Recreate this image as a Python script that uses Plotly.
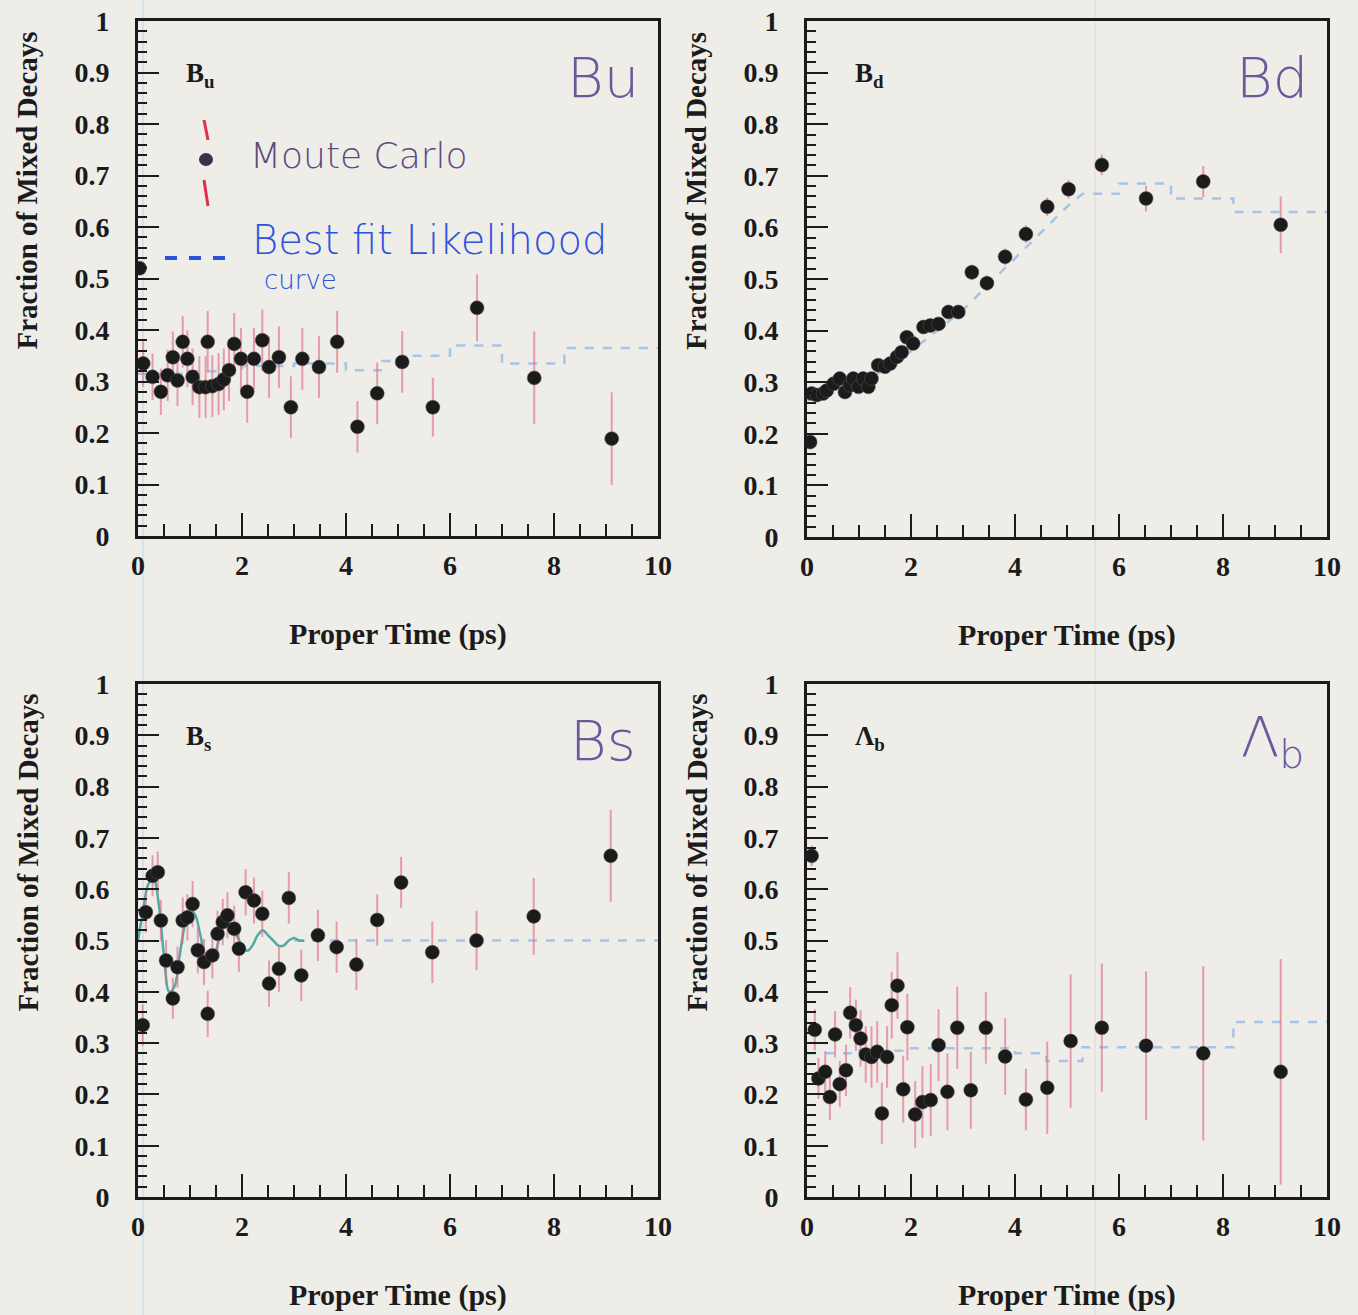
import plotly.graph_objects as go

W, H = 1358, 1315

# ---------------- data ----------------
# B_u
bu_t = [0.03, 0.10, 0.28, 0.44, 0.57, 0.67, 0.76, 0.86, 0.95, 1.05, 1.18, 1.30, 1.34, 1.43, 1.55, 1.65, 1.75,
        1.85, 1.98, 2.10, 2.23, 2.39, 2.52, 2.71, 2.94, 3.16, 3.48, 3.83, 4.22, 4.60, 5.08, 5.67, 6.52, 7.62, 9.11]
bu_f = [0.52, 0.335, 0.309, 0.28, 0.312, 0.347, 0.302, 0.377, 0.344, 0.309, 0.289, 0.289, 0.377, 0.291, 0.295, 0.304, 0.322,
        0.373, 0.344, 0.28, 0.344, 0.38, 0.328, 0.347, 0.25, 0.344, 0.328, 0.377, 0.212, 0.277, 0.338, 0.25, 0.443, 0.307, 0.189]
bu_err = [0.01, 0.045, 0.045, 0.045, 0.05, 0.05, 0.05, 0.05, 0.055, 0.055, 0.06, 0.06, 0.06, 0.06, 0.06, 0.06, 0.06,
          0.06, 0.06, 0.06, 0.06, 0.06, 0.06, 0.06, 0.06, 0.06, 0.06, 0.06, 0.05, 0.06, 0.06, 0.057, 0.065, 0.09, 0.09]
bu_fit_t = [0, 1.0, 2.0, 3.0, 4.0, 4.7, 5.2, 6.0, 7.0, 8.2, 10]
bu_fit_f = [0.315, 0.32, 0.33, 0.335, 0.322, 0.34, 0.35, 0.37, 0.335, 0.365, 0.365]

# B_d
bd_t = [0.06, 0.09, 0.19, 0.31, 0.38, 0.51, 0.63, 0.73, 0.83, 0.89, 0.99, 1.08, 1.18, 1.24, 1.37, 1.50, 1.60, 1.73,
        1.82, 1.92, 2.04, 2.24, 2.37, 2.53, 2.72, 2.91, 3.17, 3.46, 3.81, 4.21, 4.62, 5.03, 5.67, 6.52, 7.62, 9.11]
bd_f = [0.184, 0.278, 0.275, 0.278, 0.284, 0.297, 0.307, 0.281, 0.294, 0.307, 0.291, 0.307, 0.291, 0.307, 0.333, 0.33,
        0.336, 0.349, 0.358, 0.387, 0.375, 0.407, 0.41, 0.413, 0.436, 0.436, 0.513, 0.492, 0.543, 0.587, 0.64, 0.674,
        0.721, 0.656, 0.689, 0.605]
bd_err = [0.01, 0.01, 0.01, 0.01, 0.01, 0.01, 0.01, 0.01, 0.01, 0.01, 0.01, 0.012, 0.012, 0.012, 0.012, 0.012, 0.012, 0.012,
          0.012, 0.012, 0.012, 0.013, 0.013, 0.013, 0.014, 0.014, 0.015, 0.015, 0.016, 0.017, 0.018, 0.018, 0.02, 0.025, 0.03, 0.055]
bd_fit_t = [0, 0.5, 1.0, 1.5, 2.0, 2.5, 3.0, 3.5, 4.0, 4.5, 5.0, 5.3, 6.0, 6.0, 7.0, 7.0, 8.2, 8.2, 10]
bd_fit_f = [0.265, 0.28, 0.295, 0.325, 0.36, 0.40, 0.44, 0.49, 0.54, 0.59, 0.64, 0.665, 0.665, 0.685, 0.685, 0.656,
            0.656, 0.63, 0.63]

# B_s
bs_t = [0.09, 0.15, 0.28, 0.38, 0.44, 0.54, 0.67, 0.76, 0.86, 0.95, 1.05, 1.15, 1.27, 1.34, 1.43, 1.53, 1.63, 1.72,
        1.85, 1.94, 2.07, 2.23, 2.39, 2.52, 2.71, 2.90, 3.14, 3.46, 3.82, 4.20, 4.60, 5.06, 5.66, 6.51, 7.61, 9.09]
bs_f = [0.335, 0.555, 0.626, 0.633, 0.539, 0.461, 0.387, 0.448, 0.539, 0.545, 0.571, 0.481, 0.458, 0.357, 0.471, 0.513,
        0.536, 0.549, 0.523, 0.484, 0.594, 0.578, 0.552, 0.416, 0.445, 0.583, 0.432, 0.510, 0.487, 0.453, 0.540, 0.613,
        0.477, 0.500, 0.547, 0.665]
bs_err = [0.04, 0.04, 0.04, 0.04, 0.04, 0.04, 0.04, 0.04, 0.045, 0.045, 0.045, 0.045, 0.045, 0.045, 0.045, 0.045, 0.045,
          0.045, 0.045, 0.045, 0.045, 0.045, 0.045, 0.045, 0.045, 0.05, 0.05, 0.05, 0.05, 0.05, 0.05, 0.05, 0.06, 0.058,
          0.075, 0.09]
bs_osc_t = [0, 0.1, 0.2, 0.3, 0.4, 0.5, 0.6, 0.7, 0.8, 0.9, 1.0, 1.1, 1.2, 1.3, 1.4, 1.5, 1.6, 1.7, 1.8, 1.9, 2.0,
            2.1, 2.2, 2.3, 2.4, 2.5, 2.6, 2.7, 2.8, 2.9, 3.0, 3.1, 3.2]
bs_osc_f = [0.50, 0.56, 0.61, 0.62, 0.57, 0.47, 0.40, 0.41, 0.47, 0.53, 0.56, 0.55, 0.51, 0.47, 0.46, 0.48, 0.52, 0.54,
            0.53, 0.51, 0.49, 0.48, 0.49, 0.51, 0.52, 0.51, 0.50, 0.49, 0.49, 0.50, 0.505, 0.50, 0.50]
bs_fit_t = [3.0, 10]
bs_fit_f = [0.50, 0.50]

# Lambda_b
lb_t = [0.09, 0.15, 0.22, 0.35, 0.44, 0.54, 0.63, 0.75, 0.83, 0.94, 1.03, 1.13, 1.24, 1.35, 1.44, 1.54, 1.63, 1.74,
        1.85, 1.93, 2.08, 2.22, 2.38, 2.53, 2.70, 2.89, 3.15, 3.44, 3.81, 4.21, 4.62, 5.07, 5.67, 6.52, 7.62, 9.11]
lb_f = [0.665, 0.326, 0.231, 0.244, 0.195, 0.317, 0.22, 0.247, 0.359, 0.335, 0.309, 0.278, 0.273, 0.283, 0.163, 0.273,
        0.374, 0.412, 0.21, 0.331, 0.161, 0.185, 0.189, 0.296, 0.205, 0.33, 0.208, 0.33, 0.274, 0.19, 0.213, 0.304, 0.33,
        0.295, 0.28, 0.244]
lb_err = [0.02, 0.04, 0.04, 0.04, 0.045, 0.045, 0.045, 0.05, 0.05, 0.05, 0.055, 0.055, 0.06, 0.06, 0.06, 0.06, 0.065,
          0.065, 0.065, 0.065, 0.065, 0.07, 0.07, 0.07, 0.075, 0.08, 0.075, 0.07, 0.075, 0.06, 0.09, 0.13, 0.125, 0.145,
          0.17, 0.22]
lb_fit_t = [0, 1.0, 2.0, 3.0, 4.0, 4.6, 5.3, 8.2, 10]
lb_fit_f = [0.28, 0.285, 0.29, 0.29, 0.28, 0.265, 0.292, 0.341, 0.341]

x_tick_vals = [0, 2, 4, 6, 8, 10]
x_tick_text = ["0", "2", "4", "6", "8", "10"]
y_tick_vals = [0, 0.1, 0.2, 0.3, 0.4, 0.5, 0.6, 0.7, 0.8, 0.9, 1.0]
y_tick_text = ["0", "0.1", "0.2", "0.3", "0.4", "0.5", "0.6", "0.7", "0.8", "0.9", "1"]

panel_labels = ["B<sub>u</sub>", "B<sub>d</sub>", "B<sub>s</sub>", "Λ<sub>b</sub>"]
hand_labels = ["Bu", "Bd", "Bs", "Λ<sub>b</sub>"]
x_title = "Proper Time (ps)"
y_title = "Fraction of Mixed Decays"


def px(x):
    return x / W


def py(y):
    return 1 - y / H


BG = "#eeede8"
SERIF = "Liberation Serif"
INK = "#1b1b1b"

# panel frames in pixels (left, right, top, bottom)
frames = [(138, 658, 21, 536), (807, 1327, 21, 537), (138, 658, 684, 1197), (807, 1327, 684, 1197)]

panels = [
    dict(t=bu_t, f=bu_f, e=bu_err, ft=bu_fit_t, ff=bu_fit_f, shape="hv"),
    dict(t=bd_t, f=bd_f, e=bd_err, ft=bd_fit_t, ff=bd_fit_f, shape="linear"),
    dict(t=bs_t, f=bs_f, e=bs_err, ft=bs_fit_t, ff=bs_fit_f, shape="linear"),
    dict(t=lb_t, f=lb_f, e=lb_err, ft=lb_fit_t, ff=lb_fit_f, shape="hv"),
]

fig = go.Figure()
layout_axes = {}
annotations = []
shapes = []

for i, (p, fr) in enumerate(zip(panels, frames), start=1):
    xa = "x" if i == 1 else f"x{i}"
    ya = "y" if i == 1 else f"y{i}"
    fig.add_trace(go.Scatter(x=p["ft"], y=p["ff"], mode="lines",
                             line=dict(color="#a6c4e6", width=2.5, dash="dash", shape=p["shape"]),
                             xaxis=xa, yaxis=ya, hoverinfo="skip", showlegend=False))
    if i == 3:
        fig.add_trace(go.Scatter(x=bs_osc_t, y=bs_osc_f, mode="lines",
                                 line=dict(color="#52a8a4", width=2.5, shape="spline"),
                                 xaxis=xa, yaxis=ya, hoverinfo="skip", showlegend=False))
    fig.add_trace(go.Scatter(x=p["t"], y=p["f"], mode="markers",
                             marker=dict(size=14, color=INK, line=dict(width=1, color="rgba(90,90,90,0.5)")),
                             error_y=dict(type="data", array=p["e"], color="rgba(226,110,140,0.65)",
                                          thickness=2, width=0),
                             xaxis=xa, yaxis=ya, showlegend=False))

    l, r, t, b = fr
    common = dict(showline=True, linewidth=3, linecolor=INK, mirror=True, ticks="inside",
                  tickcolor=INK, tickwidth=2, showgrid=False, zeroline=False, fixedrange=True,
                  automargin=False,
                  tickfont=dict(family=SERIF, size=28, color=INK, weight="bold"))
    layout_axes["xaxis" if i == 1 else f"xaxis{i}"] = dict(
        common, domain=[px(l), px(r)], range=[0, 10], anchor=ya,
        tickmode="array", tickvals=x_tick_vals, ticktext=x_tick_text, ticklen=23,
        ticklabelstandoff=2,
        minor=dict(tickmode="linear", tick0=0, dtick=0.5, ticklen=12, ticks="inside",
                   tickwidth=1.5, tickcolor=INK, showgrid=False))
    layout_axes["yaxis" if i == 1 else f"yaxis{i}"] = dict(
        common, domain=[py(b), py(t)], range=[0, 1], anchor=xa,
        tickmode="array", tickvals=y_tick_vals, ticktext=y_tick_text, ticklen=21,
        ticklabelstandoff=20,
        minor=dict(tickmode="linear", tick0=0, dtick=0.02, ticklen=9, ticks="inside",
                   tickwidth=1.5, tickcolor=INK, showgrid=False))

    # axis titles
    annotations.append(dict(text=y_title, textangle=-90, x=px(l - 111), y=py((t + b) / 2 - 88),
                            xref="paper", yref="paper", showarrow=False, xanchor="center", yanchor="middle",
                            font=dict(family=SERIF, size=29, color=INK, weight="bold")))
    annotations.append(dict(text=x_title, x=px((l + r) / 2), y=py(b + 98),
                            xref="paper", yref="paper", showarrow=False, xanchor="center", yanchor="middle",
                            font=dict(family=SERIF, size=30, color=INK, weight="bold")))
    # printed panel label
    annotations.append(dict(text=panel_labels[i - 1], x=px(l + 46), y=py(t + 54),
                            xref="paper", yref="paper", showarrow=False, xanchor="left", yanchor="middle",
                            font=dict(family=SERIF, size=27, color=INK, weight="bold")))
    # handwritten label
    annotations.append(dict(text=hand_labels[i - 1], x=px(r - 55), y=py(t + 56),
                            xref="paper", yref="paper", showarrow=False, xanchor="center", yanchor="middle",
                            font=dict(family="DejaVu Sans", size=56, color="#6a5a9c", weight=300)))

# handwritten legend in B_u panel
annotations.append(dict(text="Moute Carlo", x=px(248), y=py(155), xref="paper", yref="paper",
                        showarrow=False, xanchor="left", yanchor="middle",
                        font=dict(family="DejaVu Sans", size=36, color="#5a4a7e", weight=300)))
annotations.append(dict(text="Best fit Likelihood", x=px(250), y=py(240), xref="paper", yref="paper",
                        showarrow=False, xanchor="left", yanchor="middle",
                        font=dict(family="DejaVu Sans", size=40, color="#2c52de", weight=300)))
annotations.append(dict(text="curve", x=px(262), y=py(280), xref="paper", yref="paper",
                        showarrow=False, xanchor="left", yanchor="middle",
                        font=dict(family="DejaVu Sans", size=26, color="#2c52de", weight=300)))
shapes.append(dict(type="line", xref="paper", yref="paper", x0=px(204), x1=px(208), y0=py(120), y1=py(140),
                   line=dict(color="#e0304e", width=3)))
shapes.append(dict(type="line", xref="paper", yref="paper", x0=px(204), x1=px(208), y0=py(180), y1=py(206),
                   line=dict(color="#e0304e", width=3)))
shapes.append(dict(type="circle", xref="paper", yref="paper", x0=px(199), x1=px(213), y0=py(153), y1=py(166),
                   fillcolor="#3a3048", line=dict(width=0)))
shapes.append(dict(type="line", xref="paper", yref="paper", x0=px(165), x1=px(232), y0=py(258), y1=py(258),
                   line=dict(color="#2c52de", width=4, dash="dash")))
# faint scan artefacts
shapes.append(dict(type="line", xref="paper", yref="paper", x0=px(143), x1=px(143), y0=0, y1=1,
                   line=dict(color="rgba(170,205,225,0.35)", width=2), layer="below"))
shapes.append(dict(type="line", xref="paper", yref="paper", x0=px(1095), x1=px(1095), y0=0, y1=1,
                   line=dict(color="rgba(200,200,200,0.25)", width=2), layer="below"))

fig.update_layout(
    width=W, height=H, autosize=False,
    margin=dict(l=0, r=0, t=0, b=0, autoexpand=False),
    paper_bgcolor=BG, plot_bgcolor=BG,
    showlegend=False,
    annotations=annotations, shapes=shapes,
    **layout_axes,
)

fig.write_html("out.html")
